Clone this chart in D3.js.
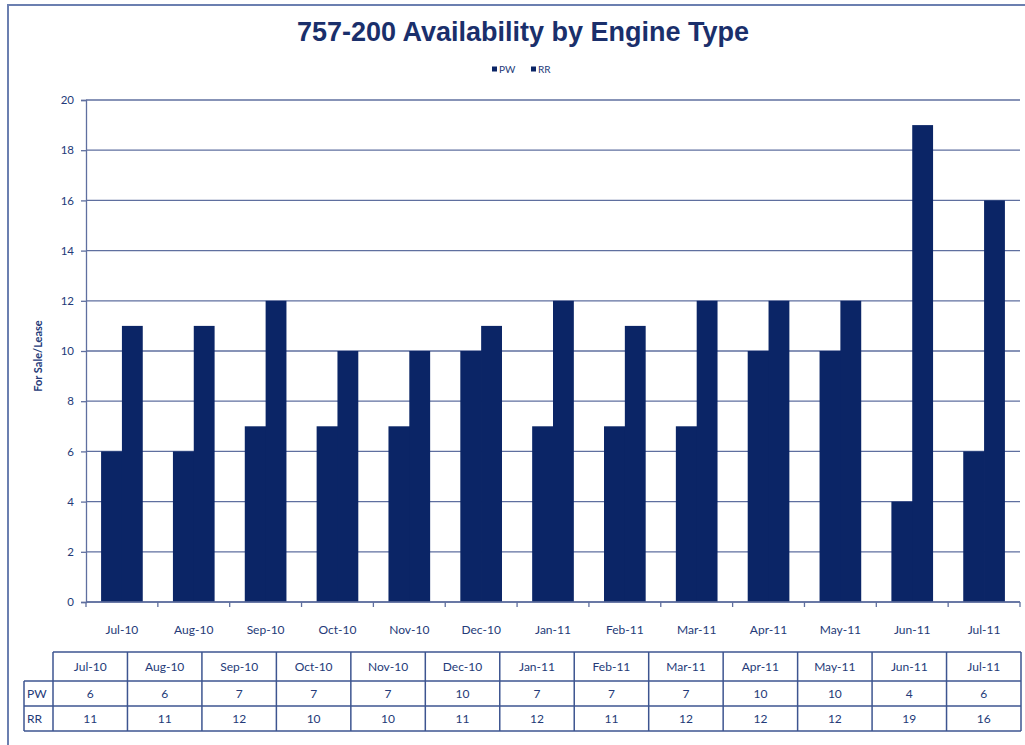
<!DOCTYPE html>
<html>
<head>
<meta charset="utf-8">
<script src="https://cdn.jsdelivr.net/npm/d3@7"></script>
<style>
  html, body { margin: 0; padding: 0; background: #fff; }
  svg { display: block; }
</style>
</head>
<body>
<svg id="chart" width="1025" height="745"></svg>
<script>
const categories = ["Jul-10","Aug-10","Sep-10","Oct-10","Nov-10","Dec-10","Jan-11","Feb-11","Mar-11","Apr-11","May-11","Jun-11","Jul-11"];
const seriesNames = ["PW", "RR"];
const pwValues = [6, 6, 7, 7, 7, 10, 7, 7, 7, 10, 10, 4, 6];
const rrValues = [11, 11, 12, 10, 10, 11, 12, 11, 12, 12, 12, 19, 16];
const yTicks = [0, 2, 4, 6, 8, 10, 12, 14, 16, 18, 20];
const titleText = "757-200 Availability by Engine Type";
const yAxisTitle = "For Sale/Lease";

const series = [pwValues, rrValues];
const barColor = "#0b2566";
const textColor = "#243a78";
const gridColor = "#5f6f9f";
const smallFont = "Lato, 'Open Sans', sans-serif";

const svg = d3.select("#chart");

// outer frame (top and left visible)
svg.append("line").attr("x1", 8).attr("x2", 1025).attr("y1", 5).attr("y2", 5)
  .attr("stroke", "#6b7fb0").attr("stroke-width", 2);
svg.append("line").attr("x1", 8).attr("x2", 8).attr("y1", 4).attr("y2", 745)
  .attr("stroke", "#6b7fb0").attr("stroke-width", 2);

const plot = { left: 86, right: 1020, top: 100, bottom: 602 };

const x = d3.scaleBand().domain(categories).range([plot.left, plot.right]).paddingInner(0.42).paddingOuter(0.21);
const xOuter = d3.scaleBand().domain(categories).range([plot.left, plot.right]);
const xInner = d3.scaleBand().domain(seriesNames).range([0, x.bandwidth()]);
const y = d3.scaleLinear().domain([0, 20]).range([plot.bottom, plot.top]);

// title
svg.append("text").attr("x", 523).attr("y", 41).attr("text-anchor", "middle")
  .attr("font-family", "'Liberation Sans', Arial, sans-serif").attr("font-weight", "bold")
  .attr("font-size", 27).attr("fill", "#1a2f6b").text(titleText);

// legend
const legend = svg.append("g").attr("font-family", smallFont).attr("font-size", 10).attr("fill", textColor);
const legendX = [492, 531];
seriesNames.forEach((s, i) => {
  legend.append("rect").attr("x", legendX[i]).attr("y", 66.5).attr("width", 5).attr("height", 5).attr("fill", barColor);
  legend.append("text").attr("x", legendX[i] + 7).attr("y", 73).text(s);
});

// gridlines
svg.append("g").selectAll("line").data(yTicks).join("line")
  .attr("x1", plot.left).attr("x2", plot.right)
  .attr("y1", d => y(d)).attr("y2", d => y(d))
  .attr("stroke", gridColor).attr("stroke-width", 1.3);

// bars
const groups = svg.append("g").selectAll("g").data(categories).join("g")
  .attr("transform", d => `translate(${x(d)},0)`);
seriesNames.forEach((s, si) => {
  groups.append("rect")
    .attr("x", xInner(s))
    .attr("y", (d, i) => y(series[si][i]))
    .attr("width", xInner.bandwidth() + (si === 0 ? 0.8 : 0))
    .attr("height", (d, i) => y(0) - y(series[si][i]))
    .attr("fill", barColor);
});

// y axis
const yAxis = d3.axisLeft(y).tickValues(yTicks).tickSize(5).tickPadding(7);
const gy = svg.append("g").attr("transform", `translate(${plot.left},0)`).call(yAxis);
gy.select(".domain").attr("stroke", gridColor).attr("stroke-width", 1.3);
gy.selectAll(".tick line").attr("stroke", gridColor).attr("stroke-width", 1.3);
gy.selectAll(".tick text").attr("fill", textColor).attr("font-family", smallFont).attr("font-size", 11.5);

// x axis: ticks at category boundaries
const boundaries = categories.map(c => xOuter(c)).concat([plot.right]);
svg.append("line").attr("x1", plot.left).attr("x2", plot.right).attr("y1", y(0)).attr("y2", y(0))
  .attr("stroke", gridColor).attr("stroke-width", 1.3);
svg.append("g").selectAll("line").data(boundaries).join("line")
  .attr("x1", d => d).attr("x2", d => d).attr("y1", y(0)).attr("y2", y(0) + 5)
  .attr("stroke", gridColor).attr("stroke-width", 1.3);
svg.append("g").selectAll("text").data(categories).join("text")
  .attr("x", d => xOuter(d) + xOuter.bandwidth() / 2).attr("y", 634)
  .attr("text-anchor", "middle").attr("font-family", smallFont).attr("font-size", 12)
  .attr("fill", textColor).text(d => d);

// y axis title
svg.append("text").attr("transform", `translate(42,356) rotate(-90)`)
  .attr("text-anchor", "middle").attr("font-family", smallFont).attr("font-weight", "bold")
  .attr("font-size", 11).attr("fill", textColor).text(yAxisTitle);

// data table
const table = { left: 53, right: 1021, labelLeft: 24, rows: [652, 681, 706, 731] };
const xt = d3.scaleBand().domain(categories).range([table.left, table.right]);
const tg = svg.append("g");
const stroke = "#3d5590";
tg.append("line").attr("x1", table.left).attr("x2", table.right).attr("y1", table.rows[0]).attr("y2", table.rows[0]).attr("stroke", stroke).attr("stroke-width", 1.5);
[1, 2, 3].forEach(r => {
  tg.append("line").attr("x1", table.labelLeft).attr("x2", table.right)
    .attr("y1", table.rows[r]).attr("y2", table.rows[r]).attr("stroke", stroke).attr("stroke-width", 1.5);
});
tg.append("line").attr("x1", table.labelLeft).attr("x2", table.labelLeft).attr("y1", table.rows[1]).attr("y2", table.rows[3]).attr("stroke", stroke).attr("stroke-width", 1.5);
const vlines = categories.map(c => xt(c)).concat([table.right]);
tg.selectAll("line.v").data(vlines).join("line").attr("class", "v")
  .attr("x1", d => d).attr("x2", d => d).attr("y1", table.rows[0]).attr("y2", table.rows[3])
  .attr("stroke", stroke).attr("stroke-width", 1.5);
tg.selectAll("text.h").data(categories).join("text").attr("class", "h")
  .attr("x", d => xt(d) + xt.bandwidth() / 2).attr("y", (table.rows[0] + table.rows[1]) / 2 + 4.5)
  .attr("text-anchor", "middle").attr("font-family", smallFont).attr("font-size", 12)
  .attr("fill", textColor).text(d => d);
seriesNames.forEach((s, si) => {
  const cy = (table.rows[si + 1] + table.rows[si + 2]) / 2 + 4.5;
  tg.append("text").attr("x", table.labelLeft + 3).attr("y", cy)
    .attr("font-family", smallFont).attr("font-size", 12).attr("fill", textColor).text(s);
  tg.selectAll("text.s" + si).data(categories).join("text").attr("class", "s" + si)
    .attr("x", d => xt(d) + xt.bandwidth() / 2).attr("y", cy)
    .attr("text-anchor", "middle").attr("font-family", smallFont).attr("font-size", 12)
    .attr("fill", textColor).text((d, i) => series[si][i]);
});
</script>
</body>
</html>
